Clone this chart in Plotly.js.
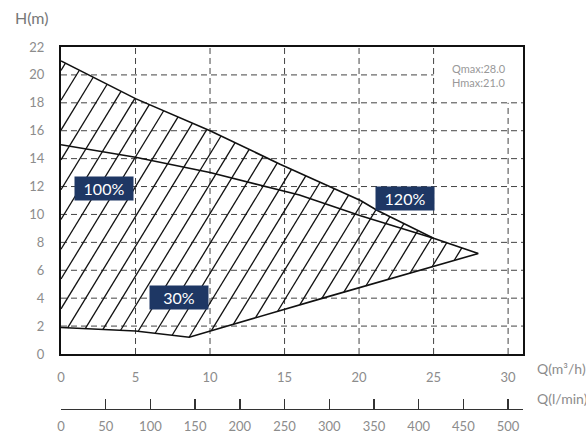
<!DOCTYPE html>
<html>
<head>
<meta charset="utf-8">
<script src="https://cdn.plot.ly/plotly-3.0.1.min.js"></script>
<style>html,body{margin:0;padding:0;background:#fff;}#chart{width:586px;height:436px;}</style>
</head>
<body>
<div id="chart"></div>
<script>
// ---- data ----
const upperQ = [0, 5, 10, 14.7, 20.1, 21.2, 25, 28.0];
const upperH = [21.0, 18.3, 16.0, 13.6, 11.0, 10.3, 8.3, 7.2];
const midQ = [0, 5, 10, 16, 20.1, 25];
const midH = [15.0, 14.1, 13.0, 11.4, 9.9, 8.3];
const lowerQ = [0, 5, 8.6, 10, 14.5, 17.4, 25, 28.0];
const lowerH = [1.9, 1.65, 1.2, 1.65, 3.05, 3.95, 6.25, 7.2];
const xTicks = [0, 5, 10, 15, 20, 25, 30];
const xTickText = ['0', '5', '10', '15', '20', '25', '30'];
const yTicks = [0, 2, 4, 6, 8, 10, 12, 14, 16, 18, 20, 22];
const lpmTicks = [0, 50, 100, 150, 200, 250, 300, 350, 400, 450, 500];
const labels = ['100%', '30%', '120%'];
const infoText = 'Qmax:28.0<br>Hmax:21.0';

// ---- hatch lines clipped to the operating region ----
const poly = [];
for (let i = 0; i < upperQ.length; i++) poly.push([upperQ[i], upperH[i]]);
for (let i = lowerQ.length - 2; i >= 0; i--) poly.push([lowerQ[i], lowerH[i]]);
const slope = 1.75, step = 1.22, phase = -0.63;
const hx = [], hy = [];
for (let x0 = phase - step * 20; x0 < 30; x0 += step) {
  const pts = [];
  for (let i = 0; i < poly.length; i++) {
    const a = poly[i], b = poly[(i + 1) % poly.length];
    const fa = a[0] - a[1] / slope - x0, fb = b[0] - b[1] / slope - x0;
    if ((fa <= 0 && fb > 0) || (fa > 0 && fb <= 0)) {
      const t = fa / (fa - fb);
      pts.push([a[0] + t * (b[0] - a[0]), a[1] + t * (b[1] - a[1])]);
    }
  }
  pts.sort((p, q) => p[1] - q[1]);
  for (let k = 0; k + 1 < pts.length; k += 2) {
    hx.push(pts[k][0], pts[k + 1][0], null);
    hy.push(pts[k][1], pts[k + 1][1], null);
  }
}

const lineStyle = {color: '#111', width: 1.6};
const traces = [
  {x: hx, y: hy, mode: 'lines', line: {color: '#111', width: 1.3}, hoverinfo: 'skip', showlegend: false},
  {x: upperQ, y: upperH, mode: 'lines', line: lineStyle, hoverinfo: 'skip', showlegend: false},
  {x: midQ, y: midH, mode: 'lines', line: lineStyle, hoverinfo: 'skip', showlegend: false},
  {x: lowerQ, y: lowerH, mode: 'lines', line: lineStyle, hoverinfo: 'skip', showlegend: false},
  {x: [0], y: [0], xaxis: 'x2', yaxis: 'y', mode: 'markers', marker: {opacity: 0}, hoverinfo: 'skip', showlegend: false}
];

// ---- grid as dashed shapes (with the empty corner for the info text) ----
const shapes = [];
const gridLine = {color: '#444', width: 1, dash: '6px,4px'};
xTicks.forEach(v => {
  if (v <= 0) return;
  shapes.push({type: 'line', xref: 'x', yref: 'y', x0: v, x1: v, y0: 0, y1: v >= 30 ? 18 : 22, line: gridLine, layer: 'below'});
});
yTicks.forEach(v => {
  if (v <= 0 || v >= 22) return;
  shapes.push({type: 'line', xref: 'x', yref: 'y', x0: 0, x1: v >= 20 ? 25 : 31, y0: v, y1: v, line: gridLine, layer: 'below'});
});

const navy = '#1e3764';
const gray = '#8c8c8c';
const fam = 'Lato, sans-serif';
const axFont = {family: fam, size: 13, color: gray};
const labelPos = [[2.9, 11.85], [7.9, 4.05], [23.1, 11.15]];
const annotations = labels.map((t, i) => ({
  x: labelPos[i][0], y: labelPos[i][1], xref: 'x', yref: 'y', text: t, showarrow: false,
  bgcolor: navy, width: 56, height: 21, font: {family: fam, size: 16, color: '#fff'}
}));
annotations.push({x: 26.1, y: 21.1, xref: 'x', yref: 'y', text: infoText, showarrow: false, align: 'left',
  xanchor: 'left', yanchor: 'top', font: {family: fam, size: 11, color: '#999'}});
annotations.push({x: -0.062, y: 1.077, xref: 'paper', yref: 'paper', xanchor: 'center', yanchor: 'middle',
  text: 'H(m)', showarrow: false, font: {family: fam, size: 16, color: '#777'}});
annotations.push({x: 1.025, y: 0.125, xref: 'paper', yref: 'paper', xanchor: 'left', text: 'Q(m³/h)',
  showarrow: false, font: {family: fam, size: 14, color: gray}});
annotations.push({x: 1.025, y: 0.045, xref: 'paper', yref: 'paper', xanchor: 'left', text: 'Q(l/min)',
  showarrow: false, font: {family: fam, size: 14, color: gray}});

const layout = {
  width: 586, height: 436,
  margin: {l: 61, r: 63, t: 47, b: 10},
  paper_bgcolor: '#fff', plot_bgcolor: '#fff',
  showlegend: false,
  xaxis: {range: [0, 31], tickvals: xTicks, ticktext: xTickText, showgrid: false, zeroline: false,
    showline: true, mirror: true, linecolor: '#111', linewidth: 2, ticks: '', ticklabelstandoff: 10,
    tickfont: axFont, fixedrange: true, automargin: false},
  xaxis2: {overlaying: 'x', anchor: 'free', position: 0.045, side: 'bottom', range: [0, 31 * 1000 / 60],
    tickvals: lpmTicks, ticks: 'inside', ticklen: 10, tickcolor: '#333', tickwidth: 1.5,
    showline: true, linecolor: '#333', linewidth: 1.5, showgrid: false, zeroline: false,
    ticklabelstandoff: 5, tickfont: axFont, automargin: false},
  yaxis: {domain: [0.19, 1], range: [0, 22], tickvals: yTicks, showgrid: false, zeroline: false,
    showline: true, mirror: true, linecolor: '#111', linewidth: 2, ticks: '', ticklabelstandoff: 12,
    tickfont: axFont, automargin: false},
  shapes: shapes,
  annotations: annotations
};

Plotly.newPlot('chart', traces, layout, {staticPlot: true, displayModeBar: false});
</script>
</body>
</html>
